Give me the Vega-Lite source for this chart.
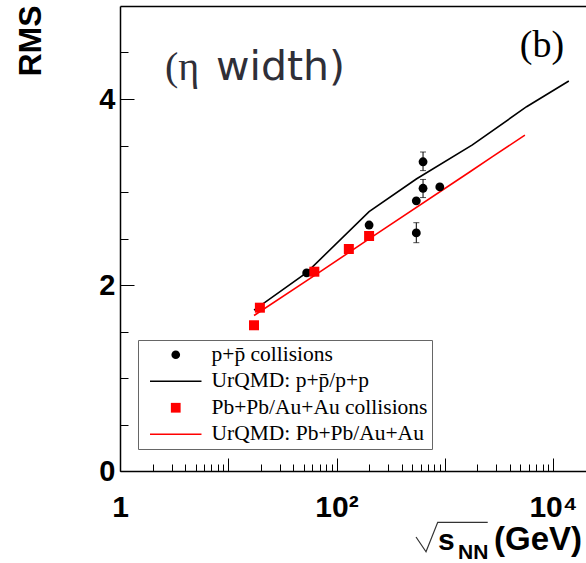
{
  "$schema": "https://vega.github.io/schema/vega-lite/v6.json",
  "width": 466,
  "height": 465,
  "autosize": {"type": "none"},
  "padding": {"left": 120, "top": 6, "right": 0, "bottom": 92},
  "background": "white",
  "view": {"stroke": null},
  "config": {
    "axis": {
      "grid": false,
      "domainColor": "black",
      "domainWidth": 1.5,
      "tickColor": "black",
      "tickWidth": 1,
      "labelFont": "Liberation Sans",
      "labelFontWeight": "bold",
      "labelColor": "black",
      "titleFont": "Liberation Sans",
      "titleFontWeight": "bold",
      "titleColor": "black"
    },
    "legend": {
      "orient": "none",
      "legendX": 18,
      "legendY": 334,
      "padding": 4,
      "strokeColor": "#666666",
      "fillColor": "white",
      "labelFont": "Liberation Serif",
      "labelFontSize": 21.5,
      "labelColor": "black",
      "labelLimit": 400,
      "labelOffset": 10,
      "symbolSize": 2650,
      "symbolOffset": 8,
      "rowPadding": 3.5,
      "cornerRadius": 0
    }
  },
  "datasets": {
    "ppData": [
      {"E": 53, "rms": 2.13},
      {"E": 200, "rms": 2.645},
      {"E": 546, "rms": 2.56, "lo": 2.455, "hi": 2.67},
      {"E": 546, "rms": 2.905},
      {"E": 630, "rms": 3.04, "lo": 2.94, "hi": 3.135},
      {"E": 630, "rms": 3.325, "lo": 3.23, "hi": 3.43},
      {"E": 900, "rms": 3.055}
    ],
    "ppModel": [
      {"E": 17.3, "rms": 1.73},
      {"E": 53, "rms": 2.134},
      {"E": 200, "rms": 2.788},
      {"E": 546, "rms": 3.14},
      {"E": 1800, "rms": 3.506},
      {"E": 5700, "rms": 3.917},
      {"E": 14000, "rms": 4.194}
    ],
    "aaData": [
      {"E": 17.3, "rms": 1.567},
      {"E": 19.6, "rms": 1.756},
      {"E": 62.4, "rms": 2.143},
      {"E": 130, "rms": 2.387},
      {"E": 200, "rms": 2.527}
    ],
    "aaModel": [
      {"E": 17.3, "rms": 1.672},
      {"E": 62.4, "rms": 2.1},
      {"E": 200, "rms": 2.496},
      {"E": 1711, "rms": 3.218},
      {"E": 2760, "rms": 3.38},
      {"E": 5500, "rms": 3.612}
    ]
  },
  "layer": [
    {
      "data": {"name": "ppModel"},
      "mark": {"type": "line", "strokeWidth": 1.6, "color": "black"},
      "encoding": {
        "x": {
          "field": "E", "type": "quantitative",
          "scale": {"type": "log", "domain": [1, 20170], "nice": false},
          "axis": {
            "orient": "bottom", "title": null, "ticks": false, "domain": true,
            "values": [1, 100, 10000],
            "labelExpr": "datum.value == 1 ? '1' : datum.value == 100 ? '10²' : '10⁴'",
            "labelFontSize": 30, "labelPadding": 21, "labelFlush": false, "labelOverlap": false
          }
        },
        "y": {
          "field": "rms", "type": "quantitative",
          "scale": {"domain": [0, 5], "nice": false, "zero": false},
          "axis": {
            "orient": "left", "ticks": false, "domain": true,
            "values": [0, 2, 4], "labelFontSize": 29, "labelPadding": 5,
            "labelFlush": false, "labelOverlap": false,
            "title": "RMS", "titleFontSize": 32, "titleAngle": -90,
            "titleAlign": "right", "titleBaseline": "middle",
            "titleX": -89.5, "titleY": -1
          }
        },
        "color": {
          "datum": "UrQMD: p+p̄/p+p", "type": "nominal",
          "scale": {
            "domain": ["p+p̄ collisions", "UrQMD: p+p̄/p+p", "Pb+Pb/Au+Au collisions", "UrQMD: Pb+Pb/Au+Au"],
            "range": ["black", "black", "#ff0000", "#ff0000"]
          },
          "legend": {
            "title": null,
            "labelFont": "Liberation Serif",
            "labelFontSize": 21.5,
            "encode": {
              "symbols": {
                "update": {
                  "x": {"value": 33.75},
                  "shape": {"signal": "datum.index == 0 ? 'circle' : datum.index == 2 ? 'square' : 'stroke'"},
                  "size": {"signal": "datum.index == 0 ? 75 : datum.index == 2 ? 95 : 2650"},
                  "fill": {"signal": "datum.index % 2 == 0 ? scale('color', datum.value) : 'transparent'"},
                  "stroke": {"signal": "scale('color', datum.value)"},
                  "strokeWidth": {"signal": "datum.index % 2 == 0 ? 0 : 1.6"},
                  "opacity": {"value": 1}
                }
              },
              "labels": {
                "update": {
                  "x": {"value": 69.5},
                  "font": {"value": "Liberation Serif"},
                  "fontSize": {"value": 21.5}
                }
              }
            }
          }
        }
      }
    },
    {
      "data": {"name": "aaModel"},
      "mark": {"type": "line", "strokeWidth": 1.6},
      "encoding": {
        "x": {
          "field": "E", "type": "quantitative",
          "scale": {"type": "log", "domain": [1, 20170], "nice": false},
          "axis": {
            "orient": "bottom", "title": null, "labels": false, "domain": false,
            "values": [1, 10, 100, 1000, 10000], "tickSize": -13
          }
        },
        "y": {
          "field": "rms", "type": "quantitative",
          "scale": {"domain": [0, 5], "nice": false, "zero": false},
          "axis": {
            "orient": "left", "title": null, "labels": false, "domain": false,
            "values": [0, 2, 4], "tickSize": -14
          }
        },
        "color": {"datum": "UrQMD: Pb+Pb/Au+Au", "type": "nominal"}
      }
    },
    {
      "data": {"name": "ppData"},
      "transform": [{"filter": "isValid(datum.lo)"}],
      "mark": {"type": "errorbar", "color": "black", "thickness": 1, "ticks": {"size": 6, "color": "black"}},
      "encoding": {
        "x": {
          "field": "E", "type": "quantitative",
          "scale": {"type": "log", "domain": [1, 20170], "nice": false},
          "axis": null
        },
        "y": {
          "field": "lo", "type": "quantitative",
          "scale": {"domain": [0, 5], "nice": false, "zero": false},
          "axis": null
        },
        "y2": {"field": "hi"}
      }
    },
    {
      "data": {"name": "ppData"},
      "mark": {"type": "circle", "size": 78, "opacity": 1},
      "encoding": {
        "x": {
          "field": "E", "type": "quantitative",
          "scale": {"type": "log", "domain": [1, 20170], "nice": false},
          "axis": {
            "orient": "bottom", "title": null, "labels": false, "domain": false,
            "values": [2, 3, 4, 5, 6, 7, 8, 9, 20, 30, 40, 50, 60, 70, 80, 90, 200, 300, 400, 500, 600, 700, 800, 900, 2000, 3000, 4000, 5000, 6000, 7000, 8000, 9000, 20000],
            "tickSize": -7
          }
        },
        "y": {
          "field": "rms", "type": "quantitative",
          "scale": {"domain": [0, 5], "nice": false, "zero": false},
          "axis": {
            "orient": "left", "title": null, "labels": false, "domain": false,
            "values": [0.5, 1, 1.5, 2.5, 3, 3.5, 4.5], "tickSize": -8
          }
        },
        "color": {"datum": "p+p̄ collisions", "type": "nominal"}
      }
    },
    {
      "data": {"name": "aaData"},
      "mark": {"type": "square", "size": 100, "opacity": 1},
      "encoding": {
        "x": {
          "field": "E", "type": "quantitative",
          "scale": {"type": "log", "domain": [1, 20170], "nice": false},
          "axis": {"orient": "top", "title": null, "labels": false, "ticks": false, "domain": true}
        },
        "y": {
          "field": "rms", "type": "quantitative",
          "scale": {"domain": [0, 5], "nice": false, "zero": false},
          "axis": null
        },
        "color": {"datum": "Pb+Pb/Au+Au collisions", "type": "nominal"}
      }
    },
    {
      "data": {"values": [{"E": 2.605, "rms": 4.204, "label": "(η"}]},
      "mark": {"type": "text", "align": "left", "baseline": "alphabetic", "font": "Liberation Serif", "fontSize": 40, "color": "#2f2f38"},
      "encoding": {
        "x": {"field": "E", "type": "quantitative", "axis": null},
        "y": {"field": "rms", "type": "quantitative", "axis": null},
        "text": {"field": "label"}
      }
    },
    {
      "data": {"values": [{"E": 7.7, "rms": 4.204, "label": "width)"}]},
      "mark": {"type": "text", "align": "left", "baseline": "alphabetic", "font": "DejaVu Sans", "fontSize": 41, "color": "#2f2f38"},
      "encoding": {
        "x": {"field": "E", "type": "quantitative", "axis": null},
        "y": {"field": "rms", "type": "quantitative", "axis": null},
        "text": {"field": "label"}
      }
    },
    {
      "data": {"values": [{"E": 7910, "rms": 4.452, "label": "(b)"}]},
      "mark": {"type": "text", "align": "center", "baseline": "alphabetic", "font": "Liberation Serif", "fontSize": 38, "color": "black"},
      "encoding": {
        "x": {"field": "E", "type": "quantitative", "axis": null},
        "y": {"field": "rms", "type": "quantitative", "axis": null},
        "text": {"field": "label"}
      }
    },
    {
      "data": {"values": [
        {"ord": 1, "E": 542.5, "rms": -0.71},
        {"ord": 2, "E": 671.2, "rms": -0.868},
        {"ord": 3, "E": 860.8, "rms": -0.552},
        {"ord": 4, "E": 2494, "rms": -0.552}
      ]},
      "mark": {"type": "line", "color": "#333333", "strokeWidth": 1.2, "clip": false},
      "encoding": {
        "x": {"field": "E", "type": "quantitative", "axis": null},
        "y": {"field": "rms", "type": "quantitative", "axis": null},
        "order": {"field": "ord"}
      }
    },
    {
      "data": {"values": [{"E": 866, "rms": -0.85, "label": "s"}]},
      "mark": {"type": "text", "align": "left", "baseline": "alphabetic", "font": "Liberation Sans", "fontWeight": "bold", "fontSize": 30, "color": "black"},
      "encoding": {
        "x": {"field": "E", "type": "quantitative", "axis": null},
        "y": {"field": "rms", "type": "quantitative", "axis": null},
        "text": {"field": "label"}
      }
    },
    {
      "data": {"values": [{"E": 1326, "rms": -0.946, "label": "NN"}]},
      "mark": {"type": "text", "align": "left", "baseline": "alphabetic", "font": "Liberation Sans", "fontWeight": "bold", "fontSize": 21, "color": "black"},
      "encoding": {
        "x": {"field": "E", "type": "quantitative", "axis": null},
        "y": {"field": "rms", "type": "quantitative", "axis": null},
        "text": {"field": "label"}
      }
    },
    {
      "data": {"values": [{"E": 2851, "rms": -0.85, "label": "(GeV)"}]},
      "mark": {"type": "text", "align": "left", "baseline": "alphabetic", "font": "Liberation Sans", "fontWeight": "bold", "fontSize": 33, "color": "black"},
      "encoding": {
        "x": {"field": "E", "type": "quantitative", "axis": null},
        "y": {"field": "rms", "type": "quantitative", "axis": null},
        "text": {"field": "label"}
      }
    }
  ],
  "resolve": {"axis": {"x": "independent", "y": "independent"}}
}
